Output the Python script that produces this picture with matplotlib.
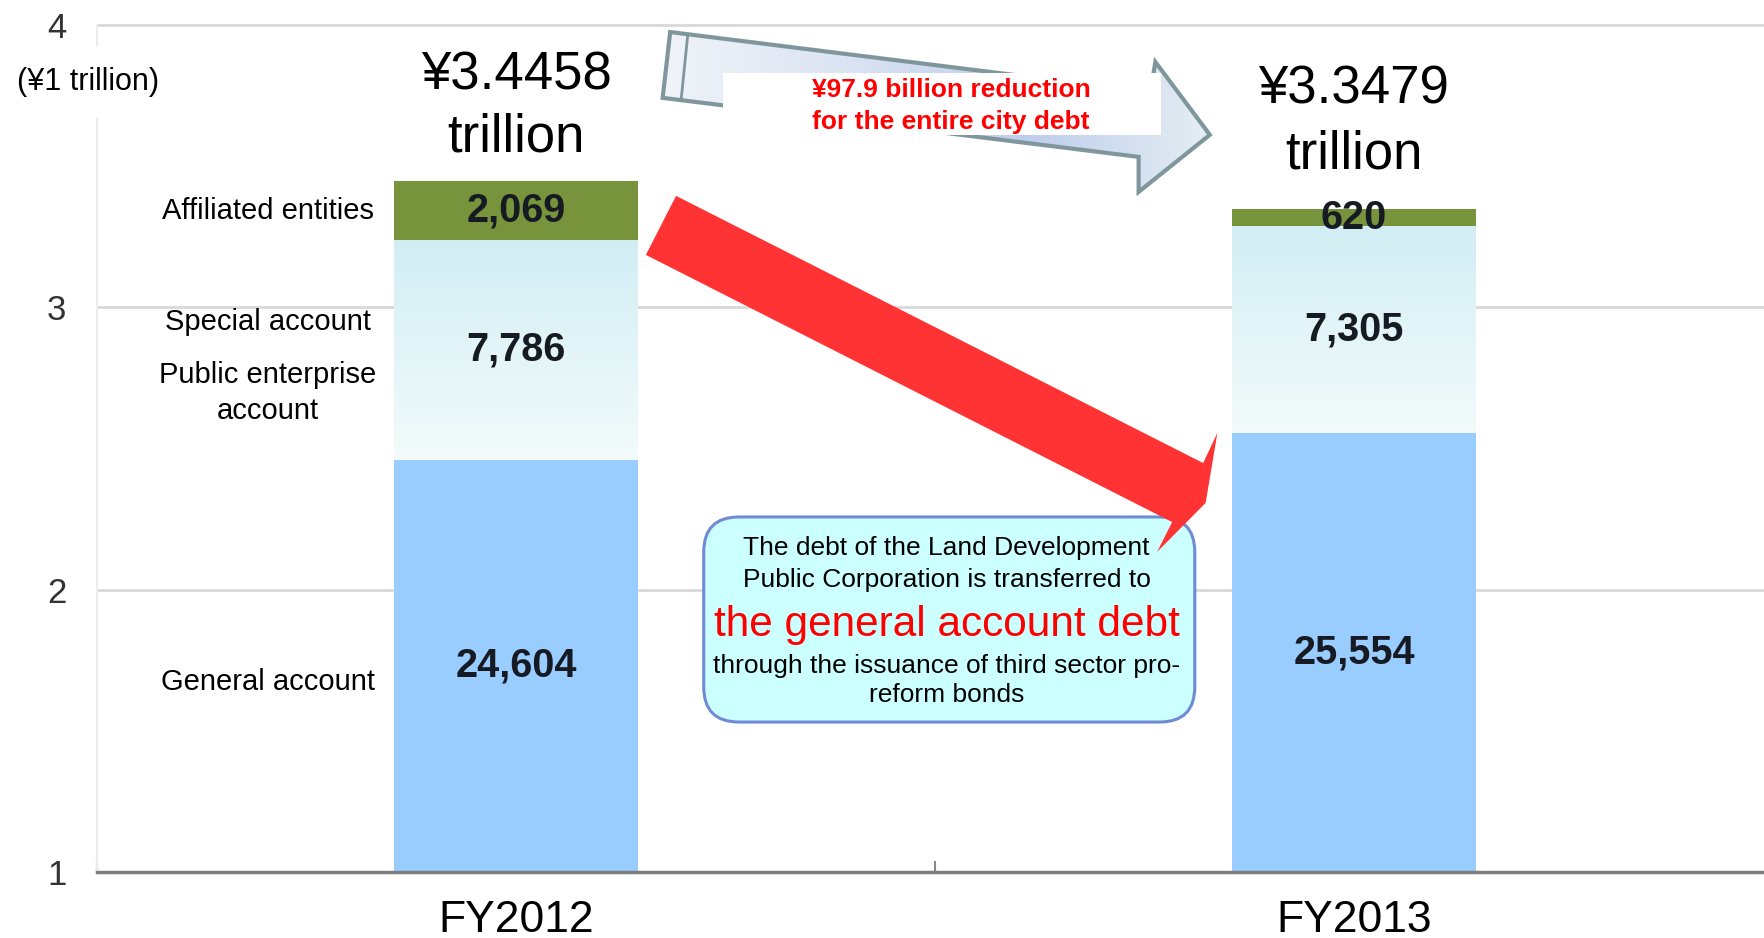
import numpy as np
import matplotlib
matplotlib.use("Agg")
import matplotlib.pyplot as plt
from matplotlib.patches import Polygon, Rectangle, FancyBboxPatch
from matplotlib.colors import LinearSegmentedColormap

plt.rcParams["font.family"] = ["Liberation Sans", "DejaVu Sans"]

# city debt outstanding, in units of ¥100 million
years = ["FY2012", "FY2013"]
general = [24604, 25554]
special = [7786, 7305]
affiliated = [2069, 620]
total_labels = ["¥3.4458", "¥3.3479"]       # ¥ trillion
y_ticks = [1, 2, 3, 4]

UNIT = 10000    # ¥100 million -> ¥1 trillion

W, H = 1764, 938
fig = plt.figure(figsize=(W / 100, H / 100), dpi=100)
ax = fig.add_axes([97 / W, 66 / H, 1676 / W, 847.3 / H])

x = np.arange(len(years))
g = np.array(general) / UNIT
s = np.array(special) / UNIT
a = np.array(affiliated) / UNIT
bw = 0.291

ax.bar(x, g, bw, color="#99ccff", zorder=2)
sp_bars = ax.bar(x, s, bw, bottom=g, color="none", zorder=2)
ax.bar(x, a, bw, bottom=g + s, color="#77933c", zorder=2)

# special account segment fades from pale cyan (top) to near white
sp_cmap = LinearSegmentedColormap.from_list("sp", ["#f3fbfb", "#d2eef4"])
for rect in sp_bars:
    x0, y0 = rect.get_x(), rect.get_y()
    ax.imshow(np.linspace(0, 1, 256).reshape(-1, 1), cmap=sp_cmap, origin="lower",
              aspect="auto", zorder=2,
              extent=(x0, x0 + rect.get_width(), y0, y0 + rect.get_height()))

ax.set_xlim(-0.5, 1.5)
ax.set_ylim(1, 4)

# axes styling
ax.set_yticks(y_ticks)
ax.yaxis.grid(True, color="#d9d9d9", lw=2)
for gl in ax.get_ygridlines():
    gl.set_clip_on(False)
ax.set_axisbelow(True)
ax.tick_params(axis="y", length=0, pad=22, labelsize=25, labelcolor="#333333")
ax.set_xticks(x, years)
ax.tick_params(axis="x", length=0, pad=20, labelsize=32)
ax.set_xticks([-0.5, 0.5], minor=True)
ax.tick_params(axis="x", which="minor", direction="in", length=8, width=1.5, color="#888888")
for side in ("top", "right"):
    ax.spines[side].set_visible(False)
ax.spines["bottom"].set_color("#7f7f7f")
ax.spines["bottom"].set_linewidth(2.5)
ax.spines["left"].set_color("#ececec")
ax.spines["left"].set_linewidth(1.5)

# segment values
lab = dict(ha="center", va="center", fontsize=28.5, fontweight="bold", color="#161a22", zorder=8)
for i in x:
    ax.text(i, (1 + g[i]) / 2, f"{general[i]:,}", **lab)
    ax.text(i, g[i] + s[i] / 2, f"{special[i]:,}", **lab)
    ax.text(i, g[i] + s[i] + a[i] / 2, f"{affiliated[i]:,}", **lab)

# totals above the bars
title_y = [(3.819, 3.599), (3.769, 3.542)]
for i in x:
    ax.text(i, title_y[i][0], total_labels[i], ha="center", va="center", fontsize=38, zorder=8)
    ax.text(i, title_y[i][1], "trillion", ha="center", va="center", fontsize=38, zorder=8)

# series names on the left
left_labels = [("Affiliated entities", 3.341), ("Special account", 2.948),
               ("Public enterprise", 2.760), ("account", 2.632), ("General account", 1.673)]
for txt, yy in left_labels:
    ax.text(-0.296, yy, txt, ha="center", va="center", fontsize=21, zorder=8)

ax.text(-0.511, 3.797, "(¥1 trillion)", ha="center", va="center", fontsize=22, clip_on=False,
        zorder=8, bbox=dict(fc="white", ec="none", pad=14))

# grey block arrow: overall reduction
grey_pts = [(0.184, 3.974), (0.757, 3.762), (0.763, 3.868), (0.828, 3.610),
            (0.743, 3.408), (0.743, 3.532), (0.175, 3.741)]
grey = Polygon(grey_pts, closed=True, fc="none", ec="#7f979c", lw=3, zorder=4)
ax.add_patch(grey)
gr_cmap = LinearSegmentedColormap.from_list("gr", ["#f0f4f9", "#dbe4f3", "#bfcdec", "#e4eef3"])
gx = [p[0] for p in grey_pts]
gy = [p[1] for p in grey_pts]
im = ax.imshow(np.linspace(0, 1, 256).reshape(1, -1), cmap=gr_cmap, aspect="auto", zorder=3,
               extent=(min(gx), max(gx), min(gy), max(gy)))
im.set_clip_path(grey)
ax.plot([0.205, 0.197], [3.966, 3.733], color="#7f979c", lw=2, zorder=4)

ax.add_patch(Rectangle((0.247, 3.610), 0.523, 0.219, fc="white", ec="none", zorder=5))
red_kw = dict(ha="center", va="center", fontsize=19, fontweight="bold", color="#ff0000", zorder=8)
ax.text(0.519, 3.769, "¥97.9 billion reduction", **red_kw)
ax.text(0.519, 3.656, "for the entire city debt", **red_kw)

ax.set_xlim(-0.5, 1.5)
ax.set_ylim(1, 4)

# callout box, rounded equally in screen space
p0 = ax.transData.transform((0, 1))
p1 = ax.transData.transform((1, 2))
aspect = (p1[0] - p0[0]) / (p1[1] - p0[1])
ax.add_patch(FancyBboxPatch((0.224, 1.531), 0.586, 0.726,
                            boxstyle="round,pad=0,rounding_size=0.042", mutation_aspect=aspect,
                            fc="#ccffff", ec="#6f8bd6", lw=2.2, zorder=5))
note_lines = [("The debt of the Land Development", 2.147, 19, "black"),
              ("Public Corporation is transferred to", 2.034, 19, "black"),
              ("the general account debt", 1.875, 30.5, "#ff0000"),
              ("through the issuance of third sector pro-", 1.729, 19, "black"),
              ("reform bonds", 1.627, 19, "black")]
for txt, yy, fs, col in note_lines:
    ax.text(0.514, yy, txt, ha="center", va="center", fontsize=fs, color=col, zorder=6)

# red arrow: Land Development Corporation debt into the general account
red_pts = [(0.191, 3.394), (0.820, 2.448), (0.837, 2.555), (0.823, 2.307),
           (0.765, 2.133), (0.783, 2.239), (0.155, 3.185)]
ax.add_patch(Polygon(red_pts, closed=True, fc="#ff3333", ec="none", zorder=7))

fig.savefig("out.png", dpi=100, facecolor="white")
